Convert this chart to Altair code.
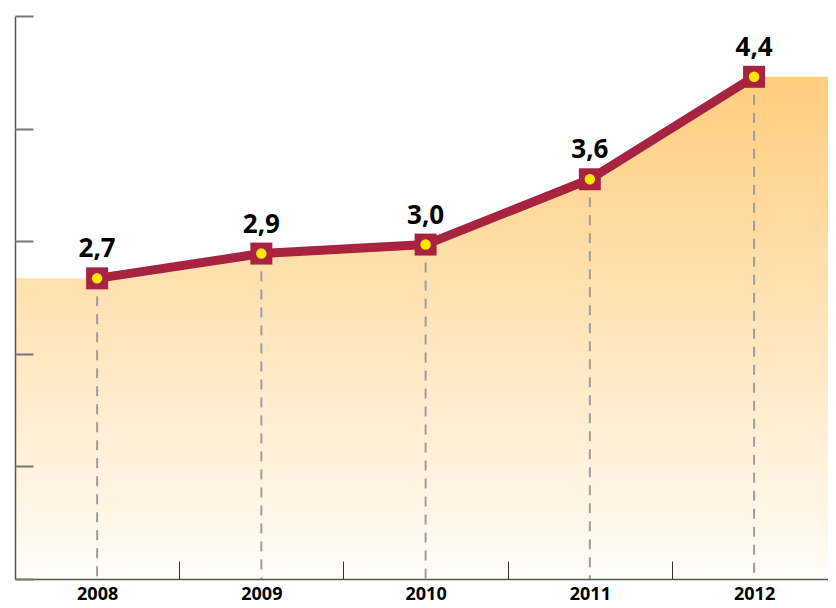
import altair as alt
import pandas as pd

years = [2008, 2009, 2010, 2011, 2012]
values = [2.67, 2.89, 2.97, 3.55, 4.46]
labels = ["2,7", "2,9", "3,0", "3,6", "4,4"]

W, H = 813, 563
LINE = "#a8233f"
FONT = "Open Sans"
X_MIN, X_MAX = 2007.5, 2012.45

df = pd.DataFrame({"year": years, "value": values, "label": labels, "zero": [0] * len(years)})
area_df = pd.DataFrame({
    "year": [X_MIN] + years + [X_MAX],
    "value": [values[0]] + values + [values[-1]],
})

xs = alt.Scale(domain=[X_MIN, X_MAX], nice=False, zero=False)
ys = alt.Scale(domain=[0, 5], nice=False, zero=True)

grad = alt.Gradient(
    gradient="linear",
    stops=[alt.GradientStop(color="#ffcd7c", offset=0),
           alt.GradientStop(color="#fffcf8", offset=1)],
    x1=1, x2=1, y1=0, y2=1,
)

area = alt.Chart(area_df).mark_area(color=grad, interpolate="linear").encode(
    x=alt.X("year:Q", scale=xs, axis=alt.Axis(
        orient="bottom", values=years, format="d", ticks=False, grid=False,
        domain=True, domainColor="#555555", domainWidth=1.5, zindex=1,
        labelFont=FONT, labelFontSize=18, labelFontWeight="bold", labelColor="#000000",
        labelPadding=6, title=None)),
    y=alt.Y("value:Q", scale=ys, axis=alt.Axis(
        orient="left", ticks=False, labels=False, grid=False, domain=True, zindex=1,
        domainColor="#555555", domainWidth=1.5, title=None)),
)

rules = alt.Chart(df).mark_rule(color="#9e9e9e", strokeWidth=2, strokeDash=[10, 8]).encode(
    x=alt.X("year:Q", scale=xs, axis=alt.Axis(
        orient="top", offset=-H, values=[2008.5, 2009.5, 2010.5, 2011.5],
        labels=False, domain=False, grid=False, ticks=True, tickSize=18, zindex=1,
        tickColor="#333333", tickWidth=1, title=None)),
    y=alt.Y("value:Q", scale=ys, axis=alt.Axis(
        orient="right", offset=-W, values=[0, 1, 2, 3, 4, 5],
        labels=False, domain=False, grid=False, ticks=True, tickSize=18, zindex=1,
        tickColor="#777777", tickWidth=2, title=None)),
    y2="zero:Q",
)

line = alt.Chart(df).mark_line(color=LINE, strokeWidth=9).encode(
    x=alt.X("year:Q", scale=xs, axis=None),
    y=alt.Y("value:Q", scale=ys, axis=None),
)

squares = alt.Chart(df).mark_point(shape="square", filled=True, color=LINE, size=484, opacity=1).encode(
    x=alt.X("year:Q", scale=xs, axis=None),
    y=alt.Y("value:Q", scale=ys, axis=None),
)

dots = alt.Chart(df).mark_point(shape="circle", filled=True, color="#ffe600", size=110, opacity=1).encode(
    x=alt.X("year:Q", scale=xs, axis=None),
    y=alt.Y("value:Q", scale=ys, axis=None),
)

text = alt.Chart(df).mark_text(
    font=FONT, fontSize=26, fontWeight="bold", color="#000000",
    baseline="alphabetic", align="center", dy=-21,
).encode(
    x=alt.X("year:Q", scale=xs, axis=None),
    y=alt.Y("value:Q", scale=ys, axis=None),
    text="label:N",
)

chart = alt.layer(area, rules, line, squares, dots, text).resolve_axis(
    x="independent", y="independent"
).properties(
    width=W, height=H,
    autosize=alt.AutoSizeParams(type="none"),
    padding={"left": 7, "top": 8, "right": 0, "bottom": 28},
    background="#ffffff",
).configure_view(stroke=None)

chart.save("out.html", embed_options={"renderer": "svg", "actions": False})
